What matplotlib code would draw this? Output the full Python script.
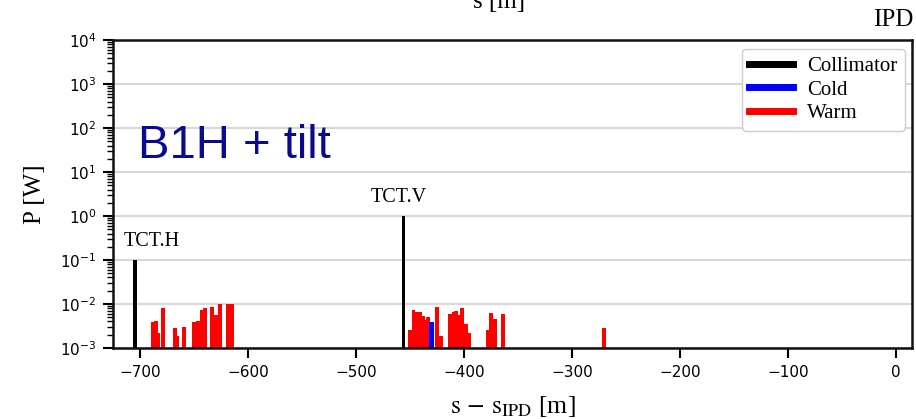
import matplotlib
matplotlib.use("Agg")
import matplotlib.pyplot as plt
from matplotlib.lines import Line2D
import numpy as np

# element positions s - s_IPD [m] and deposited power [W]
coll_s = [-705.0, -456.0]
coll_p = [0.1, 1.0]
coll_names = ["TCT.H", "TCT.V"]

cold_s = [-429.7]
cold_p = [0.0038]

warm_s = [-688.1, -685.5, -683.2, -678.8, -668.0, -665.3, -659.6, -650.2, -646.4,
          -643.0, -639.6, -633.6, -630.0, -625.9, -618.4, -615.0,
          -450.2, -446.7, -443.6, -441.0, -438.2, -435.9, -433.5, -424.7, -420.9,
          -412.7, -409.6, -407.4, -404.7, -401.4, -397.8, -395.3,
          -377.9, -374.8, -371.1, -363.7, -270.6]
warm_p = [0.0038, 0.0040, 0.0022, 0.0081, 0.0028, 0.0019, 0.0030, 0.0038, 0.0040,
          0.0072, 0.0079, 0.0087, 0.0057, 0.0099, 0.0099, 0.0099,
          0.0026, 0.0072, 0.0066, 0.0066, 0.0054, 0.0043, 0.0050, 0.0087, 0.0019,
          0.0060, 0.0066, 0.0068, 0.0055, 0.0079, 0.0036, 0.0022,
          0.0025, 0.0062, 0.0045, 0.0060, 0.0028]

plt.rcParams['font.family'] = 'Liberation Serif'
plt.rcParams['mathtext.fontset'] = 'stix'

fig = plt.figure(figsize=(9.16, 4.19), dpi=100)
ax = fig.add_axes([0.1234, 0.1695, 0.8722, 0.735])

BOT = 1e-6
ax.bar(warm_s, np.array(warm_p) - BOT, bottom=BOT, width=3.6, color='#ff0000', linewidth=0)
ax.bar(cold_s, np.array(cold_p) - BOT, bottom=BOT, width=4.6, color='#0000ff', linewidth=0)
ax.bar(coll_s, np.array(coll_p) - BOT, bottom=BOT, width=3.6, color='black', linewidth=0)

ax.set_yscale('log')
ax.set_ylim(1e-3, 1e4)
ax.set_xlim(-725, 15)
ax.set_yticks([10.0 ** k for k in range(-3, 5)])
ax.set_xticks(np.arange(-700, 1, 100))

ax.grid(True, axis='y', which='major', color='#d8d8d8', linewidth=1.5)
ax.set_axisbelow(True)

for sp in ax.spines.values():
    sp.set_linewidth(1.8)
    sp.set_color('#111111')

ax.tick_params(axis='both', which='major', direction='out', length=7, width=1.5,
               labelsize=11, pad=5)
ax.tick_params(axis='y', which='minor', direction='out', length=4, width=1.0)
for lab in ax.get_xticklabels() + ax.get_yticklabels():
    lab.set_fontfamily('DejaVu Sans')

ax.set_ylabel('P [W]', fontsize=18, labelpad=10)
ax.set_xlabel(r'$\mathrm{s}\,-\,\mathrm{s}_{\mathrm{IPD}}$ [m]', fontsize=18.5, labelpad=10)

# collimator labels
ax.text(-689.3, 0.16, coll_names[0], fontsize=14.5, ha='center', va='bottom')
ax.text(-460.0, 1.6, coll_names[1], fontsize=14.5, ha='center', va='bottom')

ax.text(0.031, 0.655, 'B1H + tilt', transform=ax.transAxes, fontsize=34,
        color='#0a0a8c', family='Liberation Sans', va='center', ha='left')

handles = [Line2D([], [], color='black', lw=5),
           Line2D([], [], color='#0000ff', lw=5),
           Line2D([], [], color='#ff0000', lw=5)]
leg = ax.legend(handles, ['Collimator', 'Cold', 'Warm'], loc='upper right',
                bbox_to_anchor=(0.991, 0.971), borderaxespad=0, fontsize=15,
                labelspacing=0.2, handlelength=2.1, handletextpad=0.7,
                borderpad=0.35, framealpha=1, fancybox=True)
leg.get_frame().set_edgecolor('#cccccc')

# remnants of the upper axis labels (cropped figure)
fig.text(473 / 916, 1 - 8 / 419, 's [m]', fontsize=18, ha='left', va='baseline')
fig.text(873 / 916, 1 - 26 / 419, 'IPD', fontsize=18, ha='left', va='baseline')

fig.savefig('out.png', dpi=100)
